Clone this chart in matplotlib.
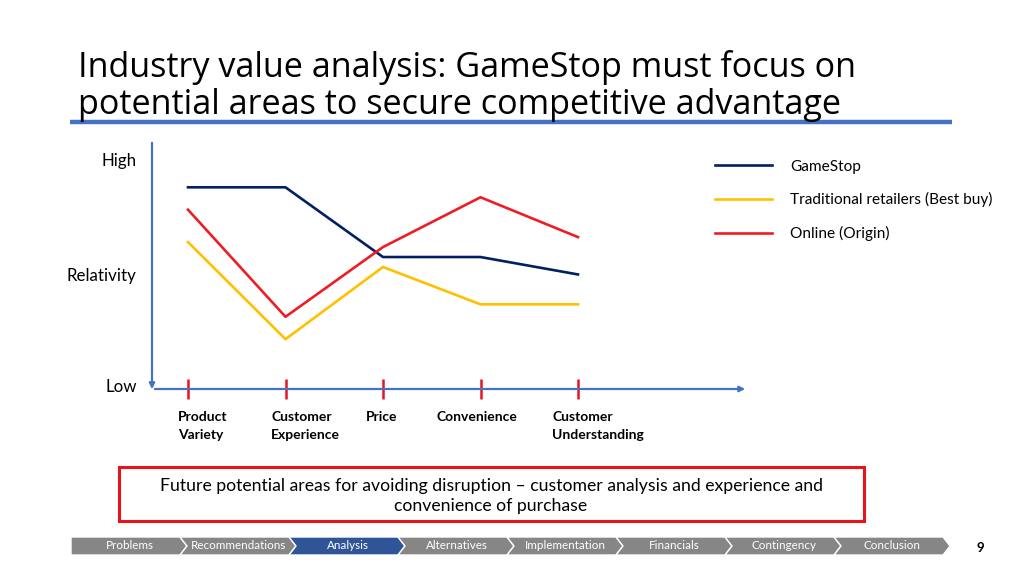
import matplotlib.pyplot as plt
import matplotlib.transforms as mtransforms
from matplotlib.patches import Polygon, Rectangle
from matplotlib.lines import Line2D

plt.rcParams['font.family'] = ['Lato', 'DejaVu Sans']

# chart data (relative scale 0 = low, 10 = high)
categories = ["Product\nVariety", "Customer\nExperience", "Price", "Convenience", "Customer\nUnderstanding"]
gamestop = [8.1, 8.1, 5.3, 5.3, 4.6]
traditional = [5.9, 2.0, 4.9, 3.4, 3.4]
online = [7.2, 2.9, 5.7, 7.7, 6.1]
series_names = ["GameStop", "Traditional retailers (Best buy)", "Online (Origin)"]
series_colors = ["#002060", "#FFC000", "#EE1C25"]

nav_items = ["Problems", "Recommendations", "Analysis", "Alternatives",
             "Implementation", "Financials", "Contingency", "Conclusion"]
nav_active = "Analysis"

W, H = 1024, 575
fig = plt.figure(figsize=(W / 100, H / 100), dpi=100)

# overlay for slide decorations, in pixel units
deco = fig.add_axes([0, 0, 1, 1])
deco.set_xlim(0, W)
deco.set_ylim(H, 0)
deco.axis('off')

deco.text(78, 86, "Industry value analysis: GameStop must focus on\npotential areas to secure competitive advantage",
          fontsize=24.6, va='center', ha='left', linespacing=1.1, color='black',
          family=['Open Sans', 'DejaVu Sans'])
deco.plot([70, 952], [122, 122], color='#4472C4', lw=3.2, solid_capstyle='butt')

# red note box
deco.add_patch(Rectangle((119, 467), 745, 54, fill=False, edgecolor='#E8141B', lw=2.2))
deco.text(491, 496, "Future potential areas for avoiding disruption \u2013 customer analysis and experience and\nconvenience of purchase",
          ha='center', va='center', fontsize=12.7, linespacing=1.38)

# navigation chevrons
x0, x_end, y_top, y_bot, tip = 71, 950, 537, 555, 7
seg_w = (x_end - tip - x0) / len(nav_items)
ym = (y_top + y_bot) / 2
for i, name in enumerate(nav_items):
    l = x0 + i * seg_w
    r = l + seg_w
    if i == 0:
        pts = [(l, y_top), (r, y_top), (r + tip, ym), (r, y_bot), (l, y_bot)]
    else:
        pts = [(l, y_top), (r, y_top), (r + tip, ym), (r, y_bot), (l, y_bot), (l + tip, ym)]
    fc = '#2F5597' if name == nav_active else '#868686'
    deco.add_patch(Polygon(pts, closed=True, facecolor=fc, edgecolor='white', lw=1.0))
    deco.text((l + r) / 2 + 4, ym - 0.5, name, color='white', fontsize=8.4, ha='center', va='center')
deco.text(980, 548, "9", fontsize=9.5, fontweight='bold', ha='center', va='center')

# main chart axes
ax_l, ax_r, ax_t, ax_b = 152, 748, 140, 389
ax = fig.add_axes([ax_l / W, 1 - ax_b / H, (ax_r - ax_l) / W, (ax_b - ax_t) / H])
ax.patch.set_alpha(0)
xs = list(range(len(categories)))
step = 97.5
ax.set_xlim(-(188 - ax_l) / step, (ax_r - 188) / step)
ax.set_ylim(0, 10)

for vals, name, col in zip([gamestop, traditional, online], series_names, series_colors):
    ax.plot(xs, vals, color=col, lw=1.9, label=name)

for s in ax.spines.values():
    s.set_visible(False)
axis_col = '#4472C4'
ax.annotate('', xy=(0, -0.012), xytext=(0, 1), xycoords='axes fraction',
            arrowprops=dict(arrowstyle='-|>', color=axis_col, lw=1.6, mutation_scale=8))
ax.annotate('', xy=(1, 0), xytext=(0, 0), xycoords='axes fraction',
            arrowprops=dict(arrowstyle='-|>', color=axis_col, lw=1.6, mutation_scale=8))

ax.set_xticks(xs)
ax.set_xticklabels(categories, fontsize=10, fontweight='bold', ha='center',
                   multialignment='left', linespacing=1.6)
ax.tick_params(axis='x', colors='#E8141B', direction='inout', length=15, width=1.8, pad=8,
               labelcolor='black')
# small horizontal nudges of the category labels, in pixels
label_nudge = [15, 20, -1, -4, 20]
for lab, dx in zip(ax.get_xticklabels(), label_nudge):
    lab.set_transform(lab.get_transform() + mtransforms.ScaledTranslation(dx / 100, 0, fig.dpi_scale_trans))

ax.set_yticks([0.16, 4.58, 9.2])
ax.set_yticklabels(["Low", "Relativity", "High"], fontsize=12.2)
ax.tick_params(axis='y', length=0, pad=11)

handles = [Line2D([], [], color=c, lw=1.9) for c in series_colors]
fig.legend(handles, series_names, loc='upper left', bbox_to_anchor=(701 / W, 1 - 146 / H),
           frameon=False, fontsize=11.1, handlelength=3.7, handletextpad=1.2, labelspacing=1.2)

fig.savefig('out.png', dpi=100)
